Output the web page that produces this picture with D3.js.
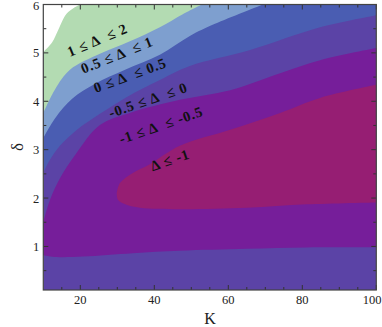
<!DOCTYPE html>
<html>
<head>
<meta charset="utf-8">
<script src="https://cdn.jsdelivr.net/npm/d3@7"></script>
<style>
  body { margin: 0; background: #fff; }
  text { font-family: "Liberation Serif", "DejaVu Serif", serif; }
</style>
</head>
<body>
<div id="chart"></div>
<script>
// tick labels
var kTicks = [20, 40, 60, 80, 100];
var deltaTicks = [1, 2, 3, 4, 5, 6];

// contour lines, as [K, delta]
var lineD2 = [[19.9, 6.0], [16.4, 5.82], [14.0, 5.47], [12.4, 5.22], [10, 5.02]];
var lineD1 = [[10, 3.76], [13.2, 4.25], [17.2, 4.65], [25.3, 4.98], [33.4, 5.24], [41.5, 5.53], [47.7, 5.80], [52.9, 6.0]];
var lineD05 = [[10, 3.24], [13.2, 3.65], [17.8, 4.05], [24.0, 4.36], [32.1, 4.65], [41.5, 4.96], [49.6, 5.35], [56.4, 5.60], [69.4, 6.0]];
var lineD0 = [[10, 2.52], [11.8, 2.79], [14.5, 3.08], [19.1, 3.41], [25.3, 3.74], [32.6, 4.09], [41.5, 4.44], [49.6, 4.73], [65.9, 5.06], [84.8, 5.53], [100, 5.78]];
var lineDm05Upper = [[10, 1.5], [11.8, 1.96], [14.5, 2.41], [18.6, 2.89], [25.3, 3.51], [33.4, 3.76], [46.9, 4.03], [60.5, 4.23], [74.0, 4.58], [84.8, 4.85], [100, 5.10]];
var lineDm05Lower = [[10, 0.82], [13.6, 0.78], [20.8, 0.79], [34.2, 0.86], [46.9, 0.91], [65.0, 0.95], [81.2, 0.98], [100, 0.98]];
var lineDm1Upper = [[29.84, 2.10], [30.7, 2.31], [34.2, 2.52], [38.8, 2.70], [46.9, 3.08], [60.5, 3.41], [74.0, 3.76], [84.8, 4.07], [100, 4.34]];
var lineDm1Lower = [[100, 1.91], [81.2, 1.87], [65.0, 1.80], [46.9, 1.77], [36.1, 1.80], [32.5, 1.86], [30.2, 1.96], [29.84, 2.10]];

// region labels
var regionLabels = ["1 \u2264 \u0394  \u2264 2", "0.5 \u2264 \u0394  \u2264 1", "0 \u2264 \u0394  \u2264 0.5",
                    "-0.5 \u2264 \u0394  \u2264 0", "-1 \u2264 \u0394  \u2264 -0.5", "\u0394 \u2264 -1"];

var W = 382, H = 327;
var pLeft = 43.3, pRight = 376.3, pTop = 4.5, pBottom = 290;

var svg = d3.select("#chart").append("svg")
            .attr("width", W).attr("height", H);

var xScale = d3.scaleLinear().domain([10, 100]).range([pLeft, pRight]);
var yScale = d3.scaleLinear().domain([0.1, 6]).range([pBottom, pTop]);

svg.append("clipPath").attr("id", "plotclip")
   .append("rect")
   .attr("x", pLeft).attr("y", pTop)
   .attr("width", pRight - pLeft).attr("height", pBottom - pTop);

var plot = svg.append("g").attr("clip-path", "url(#plotclip)");

var lineGen = d3.line()
                .x(function(d) { return xScale(d[0]); })
                .y(function(d) { return yScale(d[1]); })
                .curve(d3.curveCatmullRom.alpha(0.5));

function pt(k, d) { return "L" + xScale(k) + "," + yScale(d); }

// background band (-0.5 <= delta <= 0)
plot.append("rect")
    .attr("x", pLeft).attr("y", pTop)
    .attr("width", pRight - pLeft).attr("height", pBottom - pTop)
    .attr("fill", "#5b43a6");

// delta >= 0
plot.append("path")
    .attr("d", lineGen(lineD0) + pt(100, 6.3) + pt(10, 6.3) + "Z")
    .attr("fill", "#4a5db2");

plot.append("path")
    .attr("d", lineGen(lineD05) + pt(69.4, 6.3) + pt(10, 6.3) + "Z")
    .attr("fill", "#7e9fcf");

plot.append("path")
    .attr("d", lineGen(lineD1) + pt(52.9, 6.3) + pt(10, 6.3) + "Z")
    .attr("fill", "#b3dbb2");

plot.append("path")
    .attr("d", lineGen(lineD2) + pt(9, 5.02) + pt(9, 6.3) + pt(19.9, 6.3) + "Z")
    .attr("fill", "#ffffff");

// delta <= -0.5
plot.append("path")
    .attr("d", lineGen(lineDm05Upper) + pt(101, 5.10) + pt(101, 0.98)
               + lineGen(lineDm05Lower.slice().reverse()).replace("M", "L")
               + pt(9, 0.82) + pt(9, 1.5) + "Z")
    .attr("fill", "#761e9a");

// delta <= -1
plot.append("path")
    .attr("d", lineGen(lineDm1Upper) + pt(101, 4.34) + pt(101, 1.91)
               + lineGen(lineDm1Lower).replace("M", "L") + "Z")
    .attr("fill", "#961e73");

// axes: ticks point inward, on all four sides
var kMinor = d3.range(15, 101, 5);
var dMinor = d3.range(0.5, 6.01, 0.5);

function addTicks(vals, isX, major) {
  var len = major ? 5 : 3;
  vals.forEach(function(v) {
    if (isX) {
      var px = xScale(v);
      svg.append("line").attr("x1", px).attr("x2", px).attr("y1", pBottom).attr("y2", pBottom - len)
         .attr("stroke", "#333").attr("stroke-width", 1);
      svg.append("line").attr("x1", px).attr("x2", px).attr("y1", pTop).attr("y2", pTop + len)
         .attr("stroke", "#333").attr("stroke-width", 1);
    } else {
      var py = yScale(v);
      svg.append("line").attr("x1", pLeft).attr("x2", pLeft + len).attr("y1", py).attr("y2", py)
         .attr("stroke", "#333").attr("stroke-width", 1);
      svg.append("line").attr("x1", pRight).attr("x2", pRight - len).attr("y1", py).attr("y2", py)
         .attr("stroke", "#333").attr("stroke-width", 1);
    }
  });
}
addTicks(kMinor.filter(function(v) { return v % 20 != 0; }), true, false);
addTicks(kTicks, true, true);
addTicks(dMinor.filter(function(v) { return v % 1 != 0; }), false, false);
addTicks(deltaTicks, false, true);

svg.append("rect")
   .attr("x", pLeft).attr("y", pTop)
   .attr("width", pRight - pLeft).attr("height", pBottom - pTop)
   .attr("fill", "none").attr("stroke", "#444").attr("stroke-width", 1.2);

svg.selectAll("text.kt").data(kTicks).enter().append("text")
   .attr("class", "kt")
   .attr("x", function(d) { return xScale(d); })
   .attr("y", pBottom + 14)
   .attr("text-anchor", "middle")
   .style("font-size", "12.5px").style("fill", "#222")
   .text(function(d) { return d; })
   .each(function() {
     // keep the last label inside the page, as the reference does
     var bb = this.getBBox();
     if (bb.x + bb.width > W - 0.5) {
       d3.select(this).attr("x", +d3.select(this).attr("x") - (bb.x + bb.width - W + 0.5));
     }
   });

svg.selectAll("text.dt").data(deltaTicks).enter().append("text")
   .attr("class", "dt")
   .attr("x", pLeft - 4)
   .attr("y", function(d) { return Math.max(yScale(d) + 4.5, 10); })
   .attr("text-anchor", "end")
   .style("font-size", "12.5px").style("fill", "#222")
   .text(function(d) { return d; });

svg.append("text")
   .attr("x", 210).attr("y", 324)
   .attr("text-anchor", "middle")
   .style("font-size", "16px").style("fill", "#222")
   .text("K");

svg.append("text")
   .attr("transform", "translate(23,147) rotate(-90)")
   .attr("text-anchor", "middle")
   .style("font-size", "17px").style("fill", "#222")
   .text("\u03b4");

// labels inside the bands
var labelSpots = [[24.6, 5.27, -23], [29.9, 4.96, -22], [33.4, 4.54, -20], [38.3, 4.03, -19], [41.8, 3.51, -19], [44.2, 2.79, -19]];
regionLabels.forEach(function(t, i) {
  var s = labelSpots[i];
  svg.append("text")
     .attr("transform", "translate(" + xScale(s[0]) + "," + yScale(s[1]) + ") rotate(" + s[2] + ")")
     .attr("text-anchor", "middle")
     .attr("dy", "0.35em")
     .style("font-size", "14.5px").style("font-weight", "bold")
     .style("letter-spacing", "0.8px")
     .style("white-space", "pre").style("fill", "#111")
     .text(t);
});
</script>
</body>
</html>
